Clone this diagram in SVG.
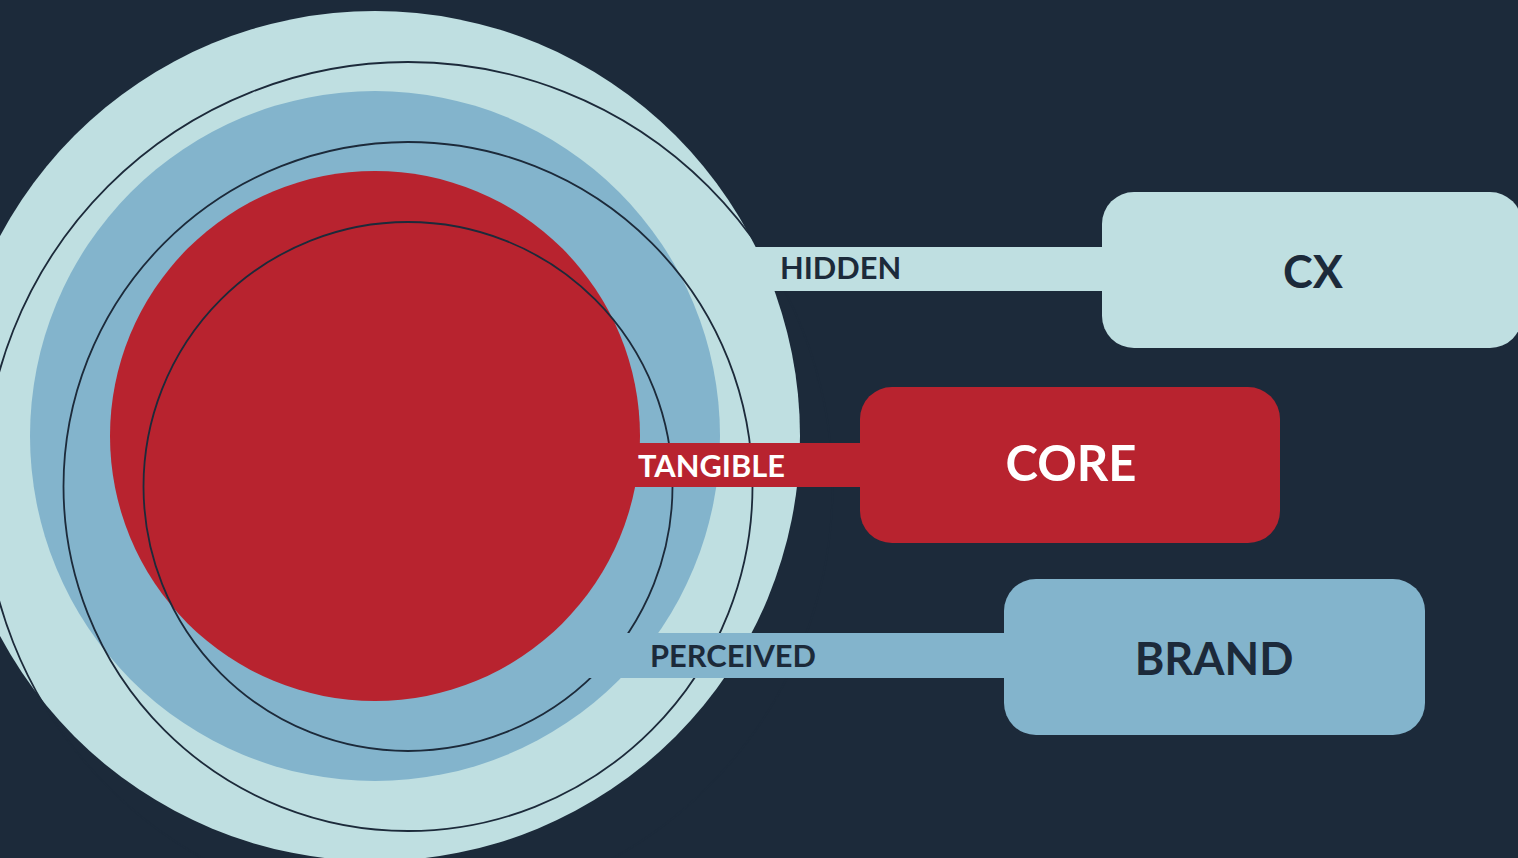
<svg xmlns="http://www.w3.org/2000/svg" width="1518" height="858" viewBox="0 0 1518 858">
  <style>
    .light { fill: #bfdfe1; }
    .mid { fill: #83b4cc; }
    .red { fill: #b8232f; }
    .ring { fill: none; stroke: #1c2a3a; stroke-width: 1.8; }
    .lbl { font-family: Lato, "Open Sans", "Liberation Sans", sans-serif; font-weight: 700; font-size: 30.8px; }
    .big { font-family: Lato, "Open Sans", "Liberation Sans", sans-serif; font-weight: 700; text-anchor: middle; }
    .dark { fill: #1c2a3a; }
    .white { fill: #ffffff; }
  </style>
  <rect width="1518" height="858" fill="#1c2a3a"/>
  <g id="circles">
    <circle class="light" cx="375" cy="436" r="425"/>
    <circle class="mid" cx="375" cy="436" r="345"/>
    <circle class="red" cx="375" cy="436" r="265"/>
    <circle class="ring" cx="408" cy="486.5" r="424.5"/>
    <circle class="ring" cx="408" cy="486.5" r="344.5"/>
    <circle class="ring" cx="408" cy="486.5" r="264.5"/>
  </g>
  <g id="connectors">
    <rect class="light" x="700" y="247" width="420" height="44"/>
    <rect class="red" x="620" y="443" width="260" height="44"/>
    <rect class="mid" x="560" y="633" width="460" height="45"/>
  </g>
  <g id="label-hidden">
    <text class="lbl dark" x="780" y="279">HIDDEN</text>
  </g>
  <g id="label-tangible">
    <text class="lbl white" x="638" y="477">TANGIBLE</text>
  </g>
  <g id="label-perceived">
    <text class="lbl dark" x="650" y="667">PERCEIVED</text>
  </g>
  <g id="node-cx">
    <rect class="light" x="1102" y="192" width="420" height="156" rx="32"/>
    <text class="big dark" x="1313" y="288" font-size="45">CX</text>
  </g>
  <g id="node-core">
    <rect class="red" x="860" y="387" width="420" height="156" rx="32"/>
    <text class="big white" x="1071" y="481" font-size="49">CORE</text>
  </g>
  <g id="node-brand">
    <rect class="mid" x="1004" y="579" width="421" height="156" rx="32"/>
    <text class="big dark" x="1214" y="675" font-size="45">BRAND</text>
  </g>
</svg>
